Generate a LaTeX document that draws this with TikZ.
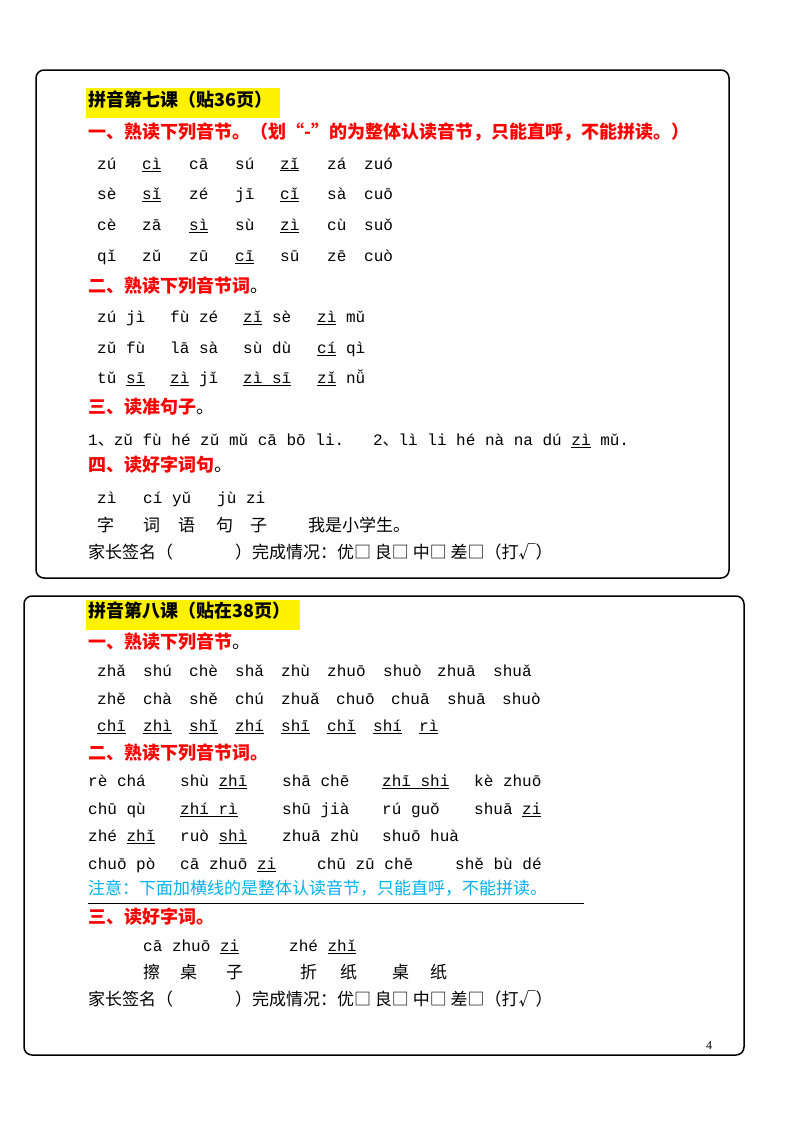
\documentclass[tikz,border=0pt]{standalone}
\usepackage{fontspec}
\setmainfont{Liberation Serif}
\newfontfamily\pyf{Liberation Mono}
\newfontfamily\cjk{Noto Sans CJK SC}
\definecolor{notice}{RGB}{0,176,240}
\newcommand{\ul}[1]{\underline{#1}}
\tikzset{
  py/.style={anchor=mid west, inner sep=0pt, font=\pyf\fontsize{16}{18}\selectfont},
  zh/.style={anchor=mid west, inner sep=0pt, font=\cjk\fontsize{17}{19}\selectfont},
  hd/.style={anchor=mid west, inner sep=0pt, text=red, font=\cjk\bfseries\fontsize{18}{20}\selectfont},
  ttl/.style={anchor=mid west, inner sep=0pt, font=\cjk\bfseries\fontsize{18}{20}\selectfont},
  box/.style={line width=1.5pt, rounded corners=8pt}
}
\begin{document}
\begin{tikzpicture}[x=1pt, y=-1pt]
    \useasboundingbox (0,0) rectangle (800,1130);

    % Lesson seven
    \draw[box] (36,70) rectangle (729,578);
    \fill[yellow] (86,88) rectangle (280,118);
    \node[ttl] (t7) at (88,104) {拼音第七课（贴36页）};
    \node[hd] (h71) at (88,136) {一、熟读下列音节。（划“-”的为整体认读音节，只能直呼，不能拼读。）};
    \foreach \x/\t in {97/zú,142/\ul{cì},189/cā,235/sú,280/\ul{zǐ},327/zá,364/zuó}
        \node[py] at (\x,167) {\t};
    \foreach \x/\t in {97/sè,142/\ul{sǐ},189/zé,235/jī,280/\ul{cǐ},327/sà,364/cuō}
        \node[py] at (\x,197) {\t};
    \foreach \x/\t in {97/cè,142/zā,189/\ul{sì},235/sù,280/\ul{zì},327/cù,364/suǒ}
        \node[py] at (\x,228) {\t};
    \foreach \x/\t in {97/qǐ,142/zǔ,189/zū,235/\ul{cī},280/sū,327/zē,364/cuò}
        \node[py] at (\x,259) {\t};
    \node[hd] (h72) at (88,290) {二、熟读下列音节词{\mdseries\color{black}。}};
    \foreach \x/\t in {97/zú jì,170/fù zé,243/\ul{zǐ} sè,317/\ul{zì} mǔ}
        \node[py] at (\x,320) {\t};
    \foreach \x/\t in {97/zǔ fù,170/lā sà,243/sù dù,317/\ul{cí} qì}
        \node[py] at (\x,351) {\t};
    \foreach \x/\t in {97/tǔ \ul{sī},170/\ul{zì} jǐ,243/\ul{zì sī},317/\ul{zǐ} nǚ}
        \node[py] at (\x,381) {\t};
    \node[hd] (h73) at (88,411) {三、读准句子{\mdseries\color{black}。}};
    \node[py] (s1) at (88,443) {1{\cjk 、}zǔ fù hé zǔ mǔ cā bō li.\ \ \ 2{\cjk 、}lì li hé nà na dú \ul{zì} mǔ.};
    \node[hd] (h74) at (88,469) {四、读好字词句{\mdseries\color{black}。}};
    \foreach \x/\t in {97/zì,143/cí yǔ,217/jù zi}
        \node[py] at (\x,501) {\t};
    \foreach \x/\t in {97/字,143/词,178/语,216/句,250/子,308/我是小学生。}
        \node[zh] at (\x,529) {\t};
    \node[zh] (sign7) at (88,556) {家长签名（\hspace{62pt}）完成情况：优□ 良□ 中□ 差□（打√）};

    % Lesson eight
    \draw[box] (24,596) rectangle (744,1055);
    \fill[yellow] (86,600) rectangle (300,630);
    \node[ttl] (t8) at (88,615) {拼音第八课（贴在38页）};
    \node[hd] (h81) at (88,646) {一、熟读下列音节{\mdseries\color{black}。}};
    \foreach \x/\t in {97/zhǎ,143/shú,189/chè,235/shǎ,281/zhù,327/zhuō,383/shuò,437/zhuā,493/shuǎ}
        \node[py] at (\x,674) {\t};
    \foreach \x/\t in {97/zhě,143/chà,189/shě,235/chú,281/zhuǎ,336/chuō,391/chuā,447/shuā,502/shuò}
        \node[py] at (\x,702) {\t};
    \foreach \x/\t in {97/\ul{chī},143/\ul{zhì},189/\ul{shǐ},235/\ul{zhí},281/\ul{shī},327/\ul{chǐ},373/\ul{shí},419/\ul{rì}}
        \node[py] at (\x,729) {\t};
    \node[hd] (h82) at (88,757) {二、熟读下列音节词。};
    \foreach \x/\t in {88/rè chá,180/shù \ul{zhī},282/shā chē,382/\ul{zhī\ shi},474/kè zhuō}
        \node[py] at (\x,784) {\t};
    \foreach \x/\t in {88/chū qù,180/\ul{zhí\ rì},282/shū jià,382/rú guǒ,474/shuā \ul{zi}}
        \node[py] at (\x,812) {\t};
    \foreach \x/\t in {88/zhé \ul{zhǐ},180/ruò \ul{shì},282/zhuā zhù,382/shuō huà}
        \node[py] at (\x,839) {\t};
    \foreach \x/\t in {88/chuō pò,180/cā zhuō \ul{zi},317/chū zū chē,455/shě bù dé}
        \node[py] at (\x,867) {\t};
    \node[zh, text=notice] (note) at (88,892) {注意：下面加横线的是整体认读音节，只能直呼，不能拼读。};
    \draw[line width=0.8pt] (88,903) -- (584,903);
    \node[hd] (h83) at (88,921) {三、读好字词。};
    \foreach \x/\t in {143/cā zhuō \ul{zi},289/zhé \ul{zhǐ}}
        \node[py] at (\x,949) {\t};
    \foreach \x/\t in {143/擦,180/桌,226/子,300/折,340/纸,392/桌,430/纸}
        \node[zh] at (\x,976) {\t};
    \node[zh] (sign8) at (88,1003) {家长签名（\hspace{62pt}）完成情况：优□ 良□ 中□ 差□（打√）};
    \node[anchor=mid west, inner sep=0pt, font=\fontsize{12}{14}\selectfont] (page) at (706,1047) {4};
\end{tikzpicture}
\end{document}
